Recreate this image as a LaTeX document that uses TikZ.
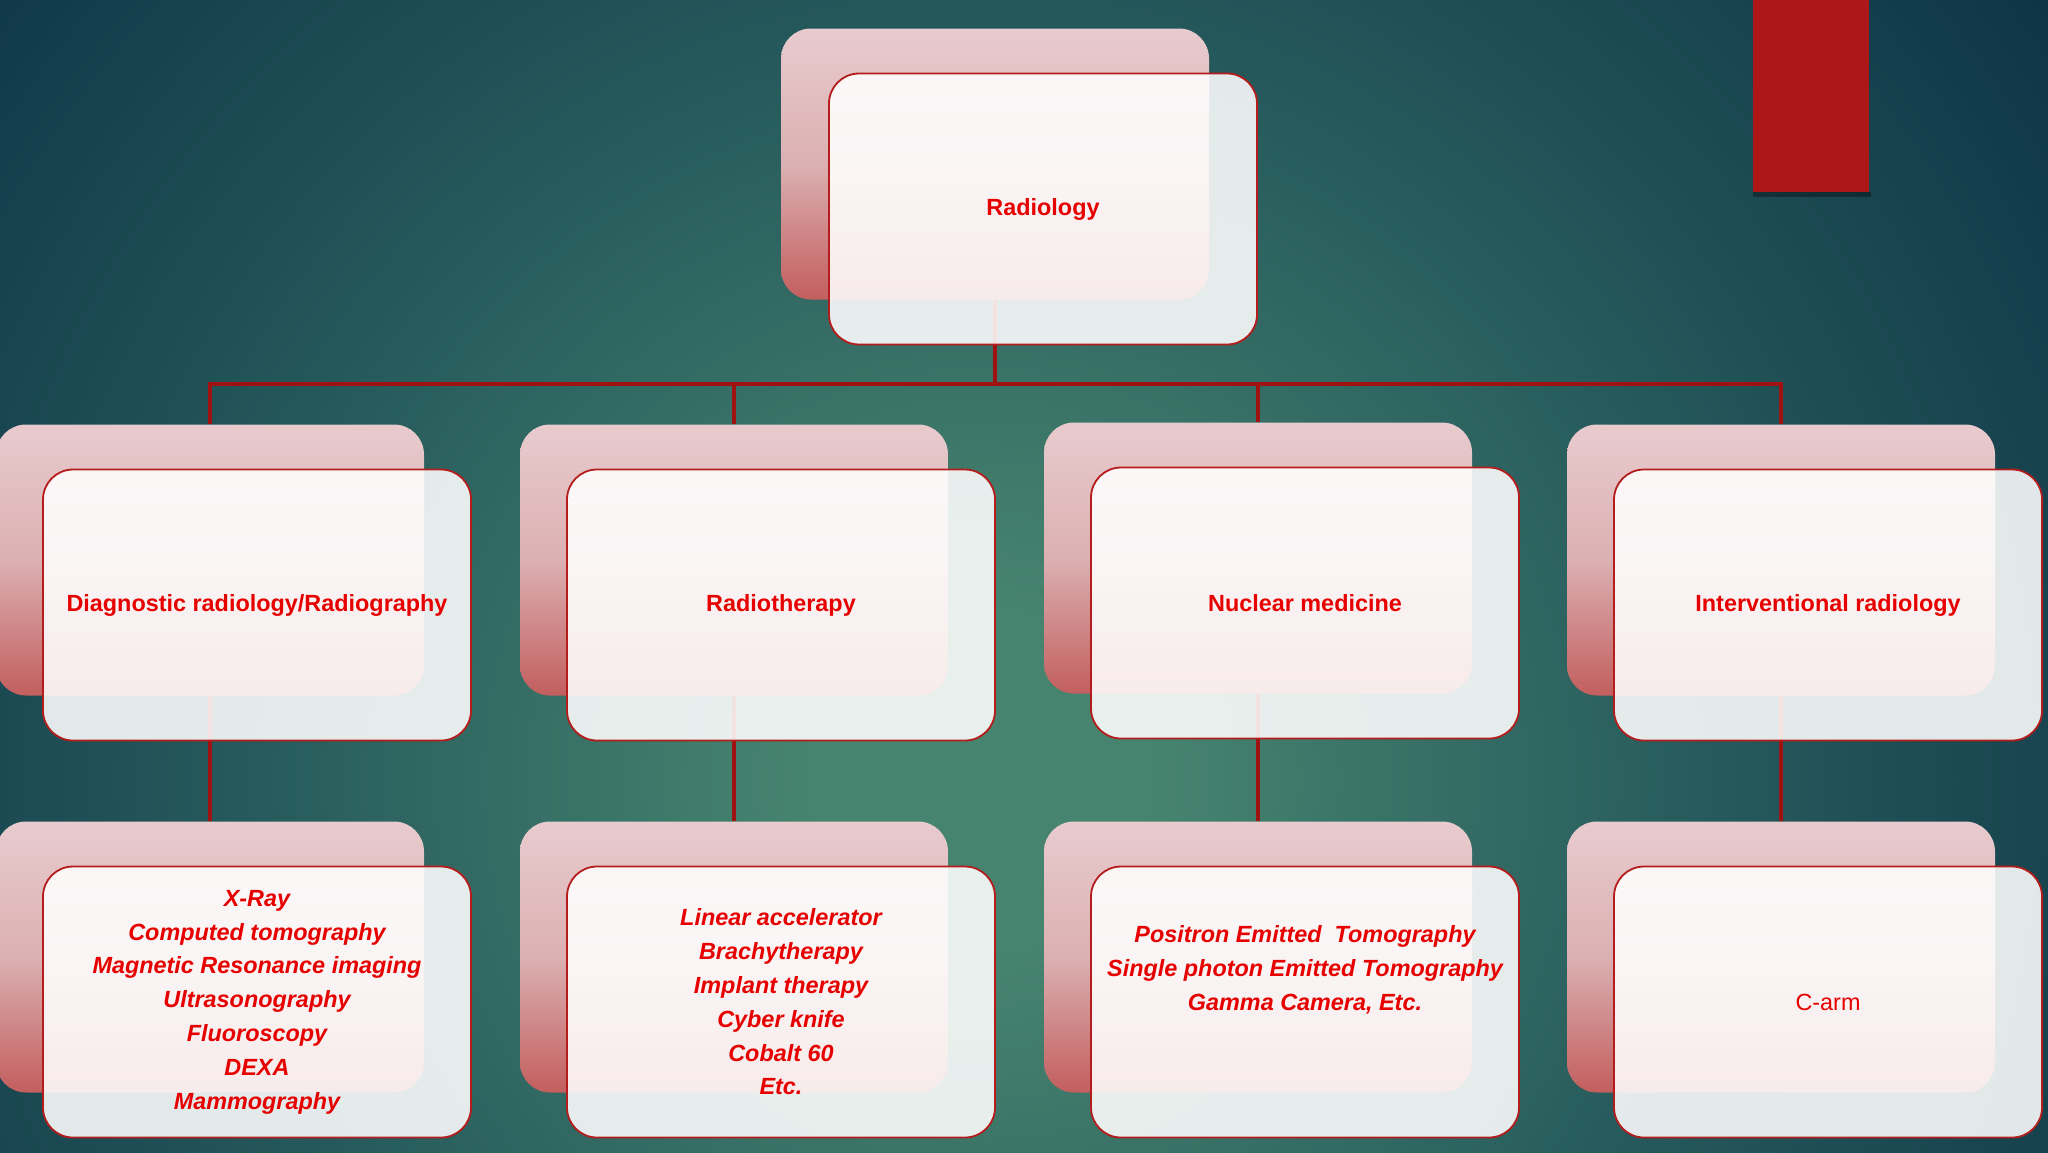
\documentclass[tikz,border=0pt]{standalone}
\usepackage{fontspec}
\setmainfont{Liberation Sans}
\usepackage{tikz}

\definecolor{bginner}{HTML}{47846F}
\definecolor{bgmid}{HTML}{265A5C}
\definecolor{bgouter}{HTML}{0D3345}
\definecolor{cardtop}{HTML}{E8CBCE}
\definecolor{cardmid}{HTML}{DCB0B2}
\definecolor{cardbot}{HTML}{C35E5E}
\definecolor{cardline}{HTML}{B51C1C}
\definecolor{linkred}{HTML}{A01212}
\definecolor{txtred}{HTML}{E60000}
\definecolor{tabred}{HTML}{AE1717}

\pgfdeclareradialshading{slidebg}{\pgfpoint{0bp}{0bp}}{color(0bp)=(bginner); color(3bp)=(bginner); color(13bp)=(bgmid); color(24bp)=(bgouter); color(50bp)=(bgouter)}

\tikzset{
  backcard/.style={rounded corners=15pt, minimum width=214pt, minimum height=135.5pt,
    top color=cardtop, bottom color=cardbot, middle color=cardmid},
  frontcard/.style={rounded corners=15pt, minimum width=214pt, minimum height=135.5pt,
    draw=cardline, line width=0.9pt, fill=white, fill opacity=0.88, text opacity=1,
    text=txtred, align=center, font=\fontsize{11.7}{16.9}\selectfont\bfseries},
  leaf/.style={frontcard, font=\fontsize{11.7}{16.9}\selectfont\bfseries\itshape},
  plain/.style={frontcard, font=\fontsize{11.7}{16.9}\selectfont},
  link/.style={draw=linkred, line width=1.75pt},
}

\begin{document}
\begin{tikzpicture}[x=0.5pt, y=-0.5pt]
			\useasboundingbox (0,0) rectangle (2048,1152);
			\clip (0,0) rectangle (2048,1152);
			\shade[shading=slidebg] (980,780) circle (1400);
			% red tab, top right
			\fill[black, opacity=0.35] (1753,192) rectangle (1871,197);
			\fill[tabred] (1753,0) rectangle (1869,192);
			% back cards
			\node[backcard] (radb) at (995,164) {};
			\node[backcard] (diagb) at (210,560) {};
			\node[backcard] (therb) at (734,560) {};
			\node[backcard] (nucb) at (1258,558) {};
			\node[backcard] (intb) at (1781,560) {};
			\node[backcard] (xrayb) at (210,957) {};
			\node[backcard] (linacb) at (734,957) {};
			\node[backcard] (petb) at (1258,957) {};
			\node[backcard] (carmb) at (1781,957) {};
			% connectors
			\coordinate (bus) at (0,384);
			\draw[link] (radb.south) |- (bus -| diagb.north) -- (diagb.north);
			\draw[link] (radb.south) |- (bus -| therb.north) -- (therb.north);
			\draw[link] (radb.south) |- (bus -| nucb.north) -- (nucb.north);
			\draw[link] (radb.south) |- (bus -| intb.north) -- (intb.north);
			\draw[link] (diagb.south) -- (xrayb.north);
			\draw[link] (therb.south) -- (linacb.north);
			\draw[link] (nucb.south) -- (petb.north);
			\draw[link] (intb.south) -- (carmb.north);
			% front cards
			\node[frontcard] (rad) at (1043,209) {Radiology};
			\node[frontcard] (diag) at (257,605) {Diagnostic radiology/Radiography};
			\node[frontcard] (ther) at (781,605) {Radiotherapy};
			\node[frontcard] (nuc) at (1305,603) {Nuclear medicine};
			\node[frontcard] (int) at (1828,605) {Interventional radiology};
			\node[leaf] (xray) at (257,1002) {X-Ray\\Computed tomography\\Magnetic Resonance imaging\\Ultrasonography\\Fluoroscopy\\DEXA\\Mammography};
			\node[leaf] (linac) at (781,1002) {Linear accelerator\\Brachytherapy\\Implant therapy\\Cyber knife\\Cobalt 60\\Etc.};
			\node[leaf] (pet) at (1305,1002) {Positron Emitted\ \ Tomography\\Single photon Emitted Tomography\\Gamma Camera, Etc.\\~\\~};
			\node[plain] (carm) at (1828,1002) {C-arm};
\end{tikzpicture}
\end{document}
